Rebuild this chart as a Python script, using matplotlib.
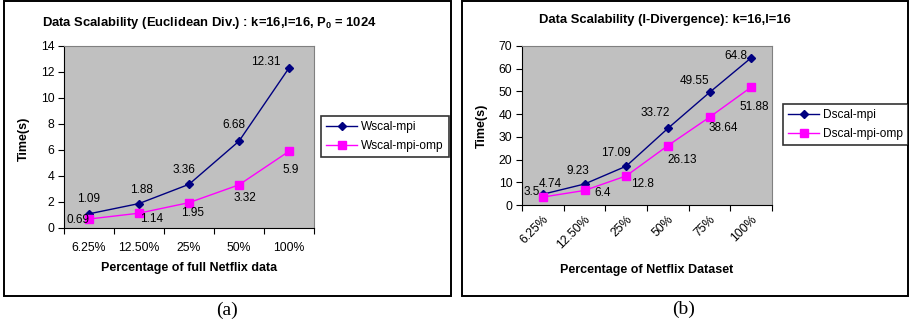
import matplotlib
matplotlib.use("Agg")
import matplotlib.pyplot as plt
from matplotlib.patches import Rectangle

plt.rcParams['font.family'] = ['Liberation Sans', 'DejaVu Sans']
plt.rcParams['mathtext.default'] = 'regular'

# ---- data ----
cats_a = ["6.25%", "12.50%", "25%", "50%", "100%"]
wscal_mpi = [1.09, 1.88, 3.36, 6.68, 12.31]
wscal_mpi_omp = [0.69, 1.14, 1.95, 3.32, 5.9]

cats_b = ["6.25%", "12.50%", "25%", "50%", "75%", "100%"]
dscal_mpi = [4.74, 9.23, 17.09, 33.72, 49.55, 64.8]
dscal_mpi_omp = [3.5, 6.4, 12.8, 26.13, 38.64, 51.88]

W, H = 909, 325
fig = plt.figure(figsize=(W / 100, H / 100), dpi=100)
fig.patch.set_facecolor("white")


def px_axes(x0, y0, x1, y1):
    return fig.add_axes([x0 / W, 1 - y1 / H, (x1 - x0) / W, (y1 - y0) / H])


def style_axes(ax, cats, ymax, ystep):
    n = len(cats)
    ax.set_facecolor("#c0c0c0")
    ax.set_xlim(-0.5, n - 0.5)
    ax.set_ylim(0, ymax)
    ax.set_yticks(range(0, ymax + 1, ystep))
    ax.set_xticks(range(n))
    ax.set_xticks([i - 0.5 for i in range(n + 1)], minor=True)
    ax.tick_params(axis="x", which="major", length=0, pad=10, labelsize=8.8)
    ax.tick_params(axis="x", which="minor", length=4, width=0.8, direction="out")
    ax.tick_params(axis="y", length=4, width=0.8, pad=3, labelsize=8.8)
    for s in ("top", "right"):
        ax.spines[s].set_color("#808080")
        ax.spines[s].set_linewidth(0.8)
    for s in ("left", "bottom"):
        ax.spines[s].set_color("black")
        ax.spines[s].set_linewidth(0.8)


def draw_series(ax, x, y1, y2, off1, off2, names, legend_xy):
    l1, = ax.plot(x, y1, color="#000080", marker="D", markersize=4, lw=1, label=names[0])
    l2, = ax.plot(x, y2, color="#ff00ff", marker="s", markersize=6, lw=1, label=names[1])
    for xi, v, o in zip(x, y1, off1):
        ax.annotate(f"{v:g}", (xi, v), xytext=o, textcoords="offset pixels",
                    ha="center", va="center", fontsize=8.5)
    for xi, v, o in zip(x, y2, off2):
        ax.annotate(f"{v:g}", (xi, v), xytext=o, textcoords="offset pixels",
                    ha="center", va="center", fontsize=8.5)
    leg = fig.legend(handles=[l1, l2], loc="upper left",
                     bbox_to_anchor=(legend_xy[0] / W, 1 - legend_xy[1] / H),
                     bbox_transform=fig.transFigure, fontsize=8.6, frameon=True,
                     fancybox=False, edgecolor="black", borderpad=0.45,
                     handlelength=2.6, handletextpad=0.3, labelspacing=0.55,
                     borderaxespad=0)
    leg.get_frame().set_linewidth(1.2)


# ---- panel (a) ----
ax1 = px_axes(64, 46, 314, 228)
style_axes(ax1, cats_a, 14, 2)
ax1.set_xticklabels(cats_a)
x_a = list(range(len(cats_a)))
draw_series(ax1, x_a, wscal_mpi, wscal_mpi_omp,
            [(0, 15), (2, 14), (-5, 14), (-5, 16), (-23, 6)],
            [(-11, -1), (13, -6), (4, -10), (6, -13), (2, -19)],
            ["Wscal-mpi", "Wscal-mpi-omp"], (321, 116))
fig.text(209 / W, 1 - 23 / H, "Data Scalability (Euclidean Div.) : k=16,l=16, P$_0$ = 1024",
         ha="center", va="center", fontsize=9.4, fontweight="bold")
fig.text(189 / W, 1 - 268 / H, "Percentage of full Netflix data",
         ha="center", va="center", fontsize=9, fontweight="bold")
fig.text(24 / W, 1 - 139 / H, "Time(s)", rotation=90,
         ha="center", va="center", fontsize=9, fontweight="bold")

# ---- panel (b) ----
ax2 = px_axes(522, 46, 772, 205)
style_axes(ax2, cats_b, 70, 10)
ax2.set_xticklabels(cats_b, rotation=45, ha="right", va="top", rotation_mode="anchor")
ax2.tick_params(axis="x", which="major", pad=6)
x_b = list(range(len(cats_b)))
draw_series(ax2, x_b, dscal_mpi, dscal_mpi_omp,
            [(7, 10), (-7, 13), (-10, 13), (-13, 15), (-15, 11), (-15, 2)],
            [(-11, 5), (18, -3), (16, -8), (14, -14), (14, -11), (3, -20)],
            ["Dscal-mpi", "Dscal-mpi-omp"], (783, 104))
fig.text(665 / W, 1 - 20 / H, "Data Scalability (I-Divergence): k=16,l=16",
         ha="center", va="center", fontsize=9.4, fontweight="bold")
fig.text(647 / W, 1 - 270 / H, "Percentage of Netflix Dataset",
         ha="center", va="center", fontsize=9, fontweight="bold")
fig.text(482 / W, 1 - 126 / H, "Time(s)", rotation=90,
         ha="center", va="center", fontsize=9, fontweight="bold")

# ---- outer frames and captions ----
for x0, x1 in [(4, 451), (462, 908)]:
    fig.patches.append(Rectangle((x0 / W, 1 - 296 / H), (x1 - x0) / W, 295 / H,
                                 transform=fig.transFigure, fill=False,
                                 edgecolor="black", linewidth=1.4))
fig.text(227 / W, 1 - 310 / H, "(a)", ha="center", va="center",
         fontsize=14, family="Liberation Serif")
fig.text(684 / W, 1 - 309 / H, "(b)", ha="center", va="center",
         fontsize=14, family="Liberation Serif")

fig.savefig("out.png", dpi=100)
